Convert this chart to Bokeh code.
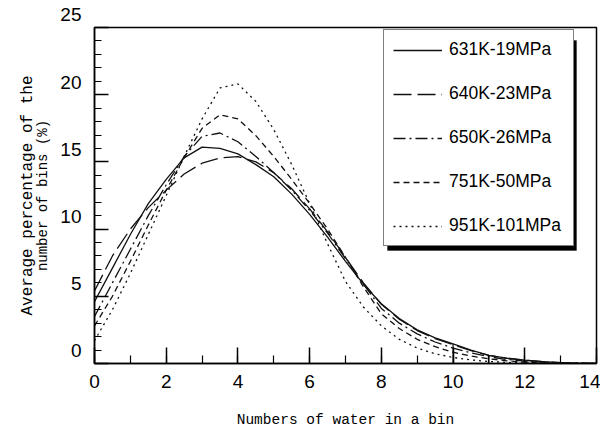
from bokeh.plotting import figure
from bokeh.models import (Range1d, FixedTicker, Legend, LegendItem, BoxAnnotation, LinearAxis)
from bokeh.embed import file_html
from bokeh.resources import INLINE

# ---- data ----
x_vals = [0, 0.5, 1, 1.5, 2, 2.5, 3, 3.5, 4, 4.5, 5, 5.5, 6, 6.5, 7,
          7.5, 8, 8.5, 9, 9.5, 10, 10.5, 11, 11.5, 12, 12.5, 13, 13.5, 14]

s631 = [4.6, 7.1, 9.6, 11.9, 13.7, 15.3, 16.1, 16.0, 15.6, 14.8, 13.9, 12.6, 11.1, 9.4, 7.6,
        5.9, 4.45, 3.35, 2.5, 1.9, 1.46, 1.0, 0.6, 0.4, 0.25, 0.14, 0.07, 0.03, 0.01]
s640 = [5.4, 8.0, 10.0, 11.6, 12.9, 14.1, 14.9, 15.3, 15.4, 15.0, 14.2, 13.0, 11.5, 9.8, 7.9,
        6.0, 4.4, 3.3, 2.45, 1.85, 1.4, 0.95, 0.6, 0.38, 0.24, 0.13, 0.06, 0.03, 0.01]
s650 = [3.5, 6.0, 8.5, 11.0, 13.3, 15.4, 16.9, 17.15, 16.5, 15.4, 14.2, 12.9, 11.4, 9.7, 7.8,
        5.9, 4.1, 3.0, 2.2, 1.6, 1.15, 0.8, 0.5, 0.3, 0.18, 0.1, 0.05, 0.02, 0.01]
s751 = [2.8, 5.0, 7.6, 10.3, 12.9, 15.3, 17.5, 18.5, 18.2, 16.95, 15.4, 13.7, 11.9, 10.0, 7.9,
        5.7, 3.7, 2.6, 1.8, 1.25, 0.84, 0.55, 0.35, 0.2, 0.1, 0.05, 0.02, 0.01, 0.0]
s951 = [1.7, 4.0, 6.7, 9.6, 12.5, 15.4, 18.2, 20.5, 20.8, 19.5, 17.4, 14.8, 11.9, 8.9, 6.1,
        4.2, 2.8, 1.8, 1.15, 0.72, 0.45, 0.27, 0.15, 0.08, 0.04, 0.02, 0.01, 0.0, 0.0]

series_labels = ["631K-19MPa", "640K-23MPa", "650K-26MPa", "751K-50MPa", "951K-101MPa"]
drop_x = [10, 11]   # vertical drop lines under the 631K curve

x_major = [0, 2, 4, 6, 8, 10, 12, 14]
y_major = [0, 5, 10, 15, 20, 25]

x_title = "Numbers of water in a bin"
y_title_1 = "Average percentage of the"
y_title_2 = "number of bins (%)"

# ---- layout ----
FL, FW, FT, FH = 94, 502, 27, 336
W, H = 600, 432
XMAX, YMAX = 14, 25
pxx = FW / XMAX
pxy = FH / YMAX

p = figure(width=W, height=H, output_backend="svg", toolbar_location=None,
           x_range=Range1d(0, XMAX), y_range=Range1d(0, YMAX),
           min_border_left=FL, min_border_right=W - FL - FW,
           min_border_top=FT, min_border_bottom=H - FT - FH)
p.xgrid.visible = False
p.ygrid.visible = False
p.outline_line_color = "black"
p.outline_line_width = 1.5
p.background_fill_color = "white"
p.border_fill_color = "white"

tick_font = "Liberation Sans"
title_font = "Liberation Mono"
for ax in (p.xaxis[0], p.yaxis[0]):
    ax.axis_line_color = "black"
    ax.axis_line_width = 1.5
    ax.major_tick_line_color = "black"
    ax.minor_tick_line_color = "black"
    ax.major_tick_line_width = 1.5
    ax.minor_tick_line_width = 1.2
    ax.major_tick_out = 0
    ax.minor_tick_out = 0
    ax.major_label_text_font = tick_font
    ax.major_label_text_font_size = "19px"
    ax.major_label_text_color = "black"
    ax.axis_label_text_font = title_font
    ax.axis_label_text_font_style = "normal"
    ax.axis_label_text_color = "black"

p.xaxis.ticker = FixedTicker(ticks=x_major, minor_ticks=list(range(0, 15)))
p.xaxis.major_tick_in = 16
p.xaxis.minor_tick_in = 8
p.xaxis.major_label_standoff = 11
p.xaxis.axis_label = x_title
p.xaxis.axis_label_text_font_size = "14.5px"
p.xaxis.axis_label_standoff = 21

p.yaxis.ticker = FixedTicker(ticks=y_major, minor_ticks=list(range(0, 26)))
p.yaxis.major_tick_in = 14
p.yaxis.minor_tick_in = 7
p.yaxis.major_label_standoff = 13
p.yaxis.major_label_overrides = {v: f"{v}\n" for v in y_major}
p.yaxis.axis_label = y_title_2
p.yaxis.axis_label_text_font_size = "14px"
p.yaxis.axis_label_standoff = 6

outer = LinearAxis(ticker=FixedTicker(ticks=[]), axis_line_color=None,
                   major_tick_line_color=None, minor_tick_line_color=None,
                   major_label_text_font_size="0px",
                   axis_label=y_title_1, axis_label_text_font=title_font,
                   axis_label_text_font_size="16px", axis_label_text_font_style="normal",
                   axis_label_text_color="black", axis_label_standoff=-4)
p.add_layout(outer, "left")

col = "#111111"
r1 = p.line(x_vals, s631, line_color=col, line_width=1.3)
r2 = p.line(x_vals, s640, line_color=col, line_width=1.3, line_dash="18 6")
r3 = p.line(x_vals, s650, line_color=col, line_width=1.3, line_dash="12 4 2 4")
r4 = p.line(x_vals, s751, line_color=col, line_width=1.3, line_dash="6 4")
r5 = p.line(x_vals, s951, line_color=col, line_width=1.3, line_dash="2 4")

drop_y = [s631[x_vals.index(v)] for v in drop_x]
p.segment(x0=drop_x, y0=[0] * len(drop_x), x1=drop_x, y1=drop_y, line_color=col, line_width=1.2)

# legend with drop shadow
LX, LY, LWID, LHGT = 289, 117, 189, 210
shadow = BoxAnnotation(left=(LX + 4) / pxx, right=(LX + LWID + 4) / pxx,
                       bottom=(LY - 4) / pxy, top=(LY + LHGT - 4) / pxy,
                       fill_color="black", fill_alpha=1, line_color="black")
p.add_layout(shadow)

legend = Legend(items=[LegendItem(label=lab, renderers=[r]) for lab, r in
                       zip(series_labels, [r1, r2, r3, r4, r5])],
                location=(LX, LY), margin=0, padding=9, spacing=23,
                glyph_width=49, glyph_height=20, label_height=20, label_width=115,
                label_standoff=7, border_line_color="black", border_line_width=1.5,
                background_fill_color="white", background_fill_alpha=1.0,
                label_text_font="Liberation Sans", label_text_font_size="17.5px",
                label_text_color="black")
p.add_layout(legend, "center")

open("out.html", "w").write(file_html(p, INLINE))
